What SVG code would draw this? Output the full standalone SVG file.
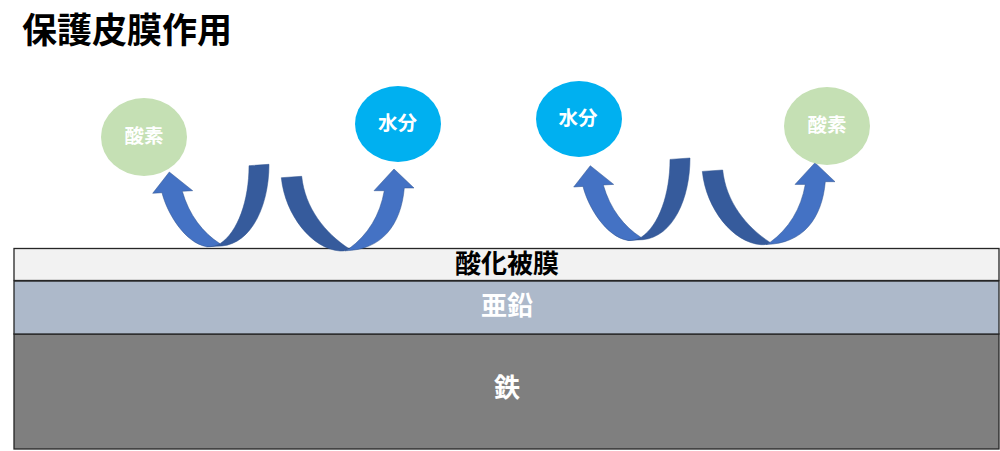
<svg xmlns="http://www.w3.org/2000/svg" width="1000" height="451" viewBox="0 0 1000 451">
<style>
text{font-family:"Noto Sans CJK JP","Noto Sans CJK SC",sans-serif;font-weight:700;text-anchor:middle}
.w{fill:#fff}
.l{stroke:#262626;stroke-width:1.3}
.lt{fill:#4472c4;stroke:#2f528f;stroke-width:.5}
.dk{fill:#365b9c;stroke:#2f528f;stroke-width:.5}
</style>
<defs>
<g id="a1">
<path class="dk" d="M220 243.700C238 232 249 200 249 165.700L269 164.300C269 205 252 243 222 246L206.700 246.700Z"/>
<path class="lt" d="M220 243.700C203 233 189 215 182.300 191.300L192.700 190.700L169.300 172L152.700 193.300L162 192.700C167 213 185 243 206.700 246.700C212 247 216 246 220 243.700Z"/>
</g>
<g id="a2">
<path class="dk" d="M349 248.700C325 233 305 208 301.700 176.300L281.300 177.700C285 215 312 249 340 251C344 251.200 347 250.500 349 248.700Z"/>
<path class="lt" d="M349 248.700C368 235 380 215 384.300 190.700L374 190.700L394 169L414 188L404.300 188C401 225 382 250 345 250.800C347 250.500 348 249.500 349 248.700Z"/>
</g>
</defs>
<text x="127" y="42.500" font-size="35" style="fill:#000">保護皮膜作用</text>
<g id="iron"><rect class="l" x="14" y="334" width="985" height="115" fill="#7f7f7f"/><text class="w" x="507" y="397" font-size="26">鉄</text></g>
<g id="zinc"><rect class="l" x="14" y="281" width="985" height="53" fill="#adb9ca"/><text class="w" x="507" y="315" font-size="26">亜鉛</text></g>
<g id="oxide"><rect class="l" x="14" y="248.500" width="985" height="32" fill="#f2f2f2"/><text x="507" y="273" font-size="26" style="fill:#000">酸化被膜</text></g>
<g id="connectors">
<use href="#a1"/><use href="#a2"/>
<use href="#a1" x="421" y="-6.300"/><use href="#a2" x="421" y="-6.300"/>
</g>
<g id="oxygen1"><ellipse cx="144" cy="137" rx="43" ry="39" fill="#c5e0b4"/><text class="w" x="144" y="143" font-size="19.500">酸素</text></g>
<g id="water1"><ellipse cx="398" cy="124" rx="43" ry="38" fill="#00b0f0"/><text class="w" x="397.500" y="130" font-size="19.500">水分</text></g>
<g id="water2"><ellipse cx="579" cy="119" rx="43" ry="38" fill="#00b0f0"/><text class="w" x="578" y="125" font-size="19.500">水分</text></g>
<g id="oxygen2"><ellipse cx="827" cy="126" rx="43" ry="39" fill="#c5e0b4"/><text class="w" x="827" y="132" font-size="19.500">酸素</text></g>
</svg>
